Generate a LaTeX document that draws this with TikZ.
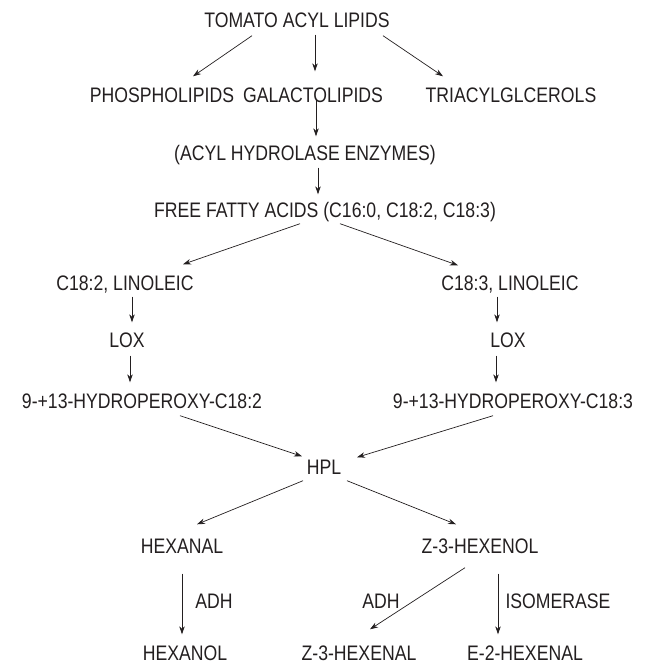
\documentclass[tikz,border=0pt]{standalone}
\usepackage{fontspec}
\setmainfont{Liberation Sans}[FakeStretch=0.84]
\usetikzlibrary{arrows.meta, calc}
\definecolor{ink}{RGB}{35,31,32}

\begin{document}
\begin{tikzpicture}[
    x=1pt, y=-1pt,
    lbl/.style={inner sep=0pt, text height=15pt, text depth=0pt, text=ink,
      font=\fontsize{21}{22}\selectfont},
    arrow/.style={-{Stealth[length=8pt, width=5.5pt]}, line width=0.7pt, draw=ink}
]
    \useasboundingbox (0,0) rectangle (646,664);

    % lipid sources
    \node[lbl] (acyl) at (297,20) {TOMATO ACYL LIPIDS};
    \node[lbl] (phos) at (162,95) {PHOSPHOLIPIDS};
    \node[lbl] (gala) at (313,95) {GALACTOLIPIDS};
    \node[lbl] (tria) at (511,95) {TRIACYLGLCEROLS};
    \node[lbl] (enzy) at (305,153) {(ACYL HYDROLASE ENZYMES)};
    \node[lbl] (ffa) at (325,210) {FREE FATTY ACIDS (C16:0, C18:2, C18:3)};

    % two LOX branches
    \node[lbl] (linA) at (125,283) {C18:2, LINOLEIC};
    \node[lbl] (linB) at (510,283) {C18:3, LINOLEIC};
    \node[lbl] (loxA) at (127,340) {LOX};
    \node[lbl] (loxB) at (508,340) {LOX};
    \node[lbl] (hpoA) at (142,401) {9-+13-HYDROPEROXY-C18:2};
    \node[lbl] (hpoB) at (513,401) {9-+13-HYDROPEROXY-C18:3};

    % volatiles
    \node[lbl] (hpl) at (324,467) {HPL};
    \node[lbl] (hexal) at (182,546) {HEXANAL};
    \node[lbl] (zol) at (480,546) {Z-3-HEXENOL};
    \node[lbl] (hexol) at (185,653) {HEXANOL};
    \node[lbl] (zal) at (359,653) {Z-3-HEXENAL};
    \node[lbl] (eal) at (525,653) {E-2-HEXENAL};

    \draw[arrow] ($(acyl.south)+(-45,8)$) -- ($(phos.north)+(31,-11)$);
    \draw[arrow] ($(acyl.south)+(18,7)$) -- ($(gala.north)+(2,-16)$);
    \draw[arrow] ($(acyl.south)+(86,8)$) -- ($(tria.north)+(-68,-11)$);
    \draw[arrow] ($(gala.south)+(3,-3)$) -- ($(enzy.north)+(11,-9)$);
    \draw[arrow] ($(enzy.south)+(13,7)$) -- ($(ffa.north)+(-7,-8)$);
    \draw[arrow] ($(ffa.south)+(-25,6)$) -- ($(linA.north)+(58,-11)$);
    \draw[arrow] ($(ffa.south)+(15,6)$) -- ($(linB.north)+(-52,-10)$);
    \draw[arrow] ($(linA.south)+(7,6)$) -- ($(loxA.north)+(5,-10)$);
    \draw[arrow] ($(loxA.south)+(3,8)$) -- ($(hpoA.north)+(-12,-11)$);
    \draw[arrow] ($(linB.south)+(-13,6)$) -- ($(loxB.north)+(-11,-10)$);
    \draw[arrow] ($(loxB.south)+(-12,8)$) -- ($(hpoB.north)+(-17,-11)$);
    \draw[arrow] ($(hpoA.south)+(38,7)$) -- ($(hpl.north)+(-22,-3)$);
    \draw[arrow] ($(hpoB.south)+(-20,7)$) -- ($(hpl.north)+(33,-2)$);
    \draw[arrow] ($(hpl.south)+(-21,6)$) -- ($(hexal.north)+(15,-14)$);
    \draw[arrow] ($(hpl.south)+(23,6)$) -- ($(zol.north)+(-24,-14)$);
    \draw[arrow] (hexal.south) ++(0,20) coordinate (hxTop) -- ($(hexol.north)+(-3,-11)$)
        node[lbl, pos=0.45, right=13pt] (adhA) {ADH};
    \draw[arrow] ($(zol.south)+(-15,14)$) -- ($(zal.north)+(11,-16)$);
    \node[lbl] (adhB) at (381,601) {ADH};
    \draw[arrow] ($(zol.south)+(18,20)$) -- ($(eal.north)+(-27,-11)$);
    \node[lbl] (isom) at (558,601) {ISOMERASE};
\end{tikzpicture}
\end{document}
